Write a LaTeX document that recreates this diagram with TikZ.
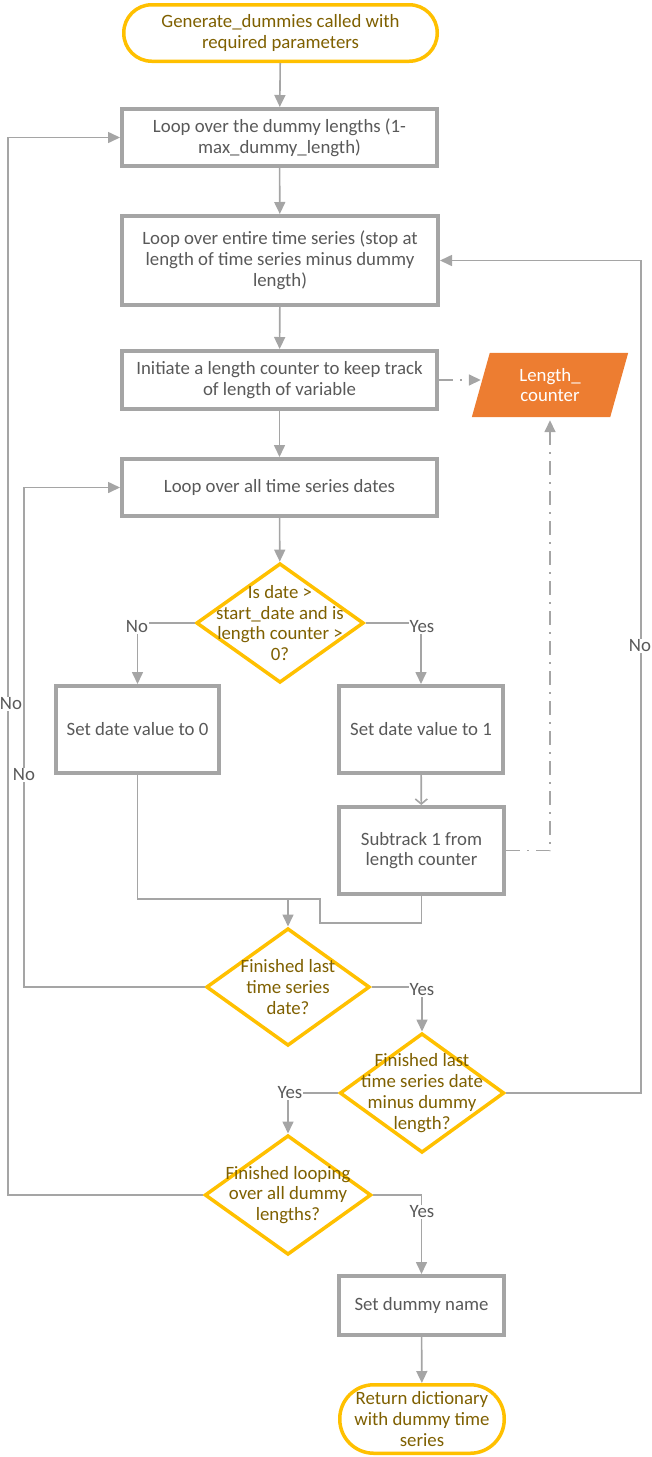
\documentclass[tikz,border=0pt]{standalone}
\usepackage{fontspec}
\setmainfont{Carlito}
\usetikzlibrary{arrows.meta,shapes.geometric,backgrounds,calc}
\definecolor{lineg}{HTML}{A5A5A5}
\definecolor{txtg}{HTML}{595959}
\definecolor{yell}{HTML}{FFC000}
\definecolor{olive}{HTML}{7F6000}
\definecolor{orng}{HTML}{ED7D31}
\begin{document}
\begin{tikzpicture}[x=1pt,y=-1pt,
  font=\fontsize{18.8}{20.8}\selectfont,
  stepbox/.style={draw=lineg, line width=4pt, fill=white, text=txtg, align=center, inner sep=0pt},
  term/.style={draw=yell, line width=3.5pt, fill=white, text=olive, align=center, inner sep=0pt},
  dec/.style={diamond, draw=yell, line width=3.5pt, fill=white, inner sep=0pt},
  dtext/.style={text=olive, align=center, inner sep=0pt},
  arr/.style={draw=lineg, line width=1.6pt, -{Triangle[length=12pt,width=11pt]}},
  plain/.style={draw=lineg, line width=1.6pt},
  dd/.style={draw=lineg, line width=1.6pt, dash pattern=on 14pt off 7pt on 2pt off 7pt, -{Triangle[length=12pt,width=11pt]}},
  lab/.style={fill=white, text=txtg, inner sep=1pt}]
\useasboundingbox (0,0) rectangle (652,1457);

% process steps
\node[term, rounded corners=28pt, minimum width=313.5pt, minimum height=56.5pt] (start) at (280.5,33) {Generate\_dummies called with\\required parameters};
\node[stepbox, minimum width=315pt, minimum height=57pt] (b1) at (279.5,137.5) {Loop over the dummy lengths (1-\\max\_dummy\_length)};
\node[stepbox, minimum width=316pt, minimum height=89pt] (b2) at (280,260.5) {Loop over entire time series (stop at\\length of time series minus dummy\\length)};
\node[stepbox, minimum width=315pt, minimum height=58pt] (b3) at (279.5,380) {Initiate a length counter to keep track\\of length of variable};
\node[stepbox, minimum width=315pt, minimum height=57pt] (b4) at (279.5,487.5) {Loop over all time series dates};

% data store
\node[text=white, align=center, inner sep=0pt, minimum width=138pt, minimum height=64pt] (lc) at (550,385) {Length\_\\counter};
\begin{scope}[on background layer]
  \fill[orng] ($(lc.south west)+(-9,0)$) -- ($(lc.north west)+(9,0)$) -- ($(lc.north east)+(9,0)$) -- ($(lc.south east)+(-9,0)$) -- cycle;
\end{scope}

% decisions and branches
\node[dec, minimum width=167.5pt, minimum height=119.5pt, label={[dtext]center:{Is date >\\start\_date and is\\length counter >\\0?}}] (d1) at (280,623) {};
\node[stepbox, minimum width=163pt, minimum height=87pt] (s0) at (137.5,729.5) {Set date value to 0};
\node[stepbox, minimum width=164pt, minimum height=87pt] (s1) at (421,729.5) {Set date value to 1};
\node[stepbox, minimum width=165pt, minimum height=87pt] (sub) at (421.5,850.5) {Subtrack 1 from\\length counter};
\node[dec, minimum width=163.5pt, minimum height=117.5pt, label={[dtext]center:{Finished last\\time series\\date?}}] (d2) at (288,987) {};
\node[dec, minimum width=164.5pt, minimum height=119.5pt, label={[dtext]center:{Finished last\\time series date\\minus dummy\\length?}}] (d3) at (422,1093) {};
\node[dec, minimum width=166.5pt, minimum height=119.5pt, label={[dtext]center:{Finished looping\\over all dummy\\lengths?}}] (d4) at (288,1195) {};
\node[stepbox, minimum width=165pt, minimum height=59pt] (sdn) at (421.5,1305.5) {Set dummy name};
\node[term, rounded corners=34pt, minimum width=164.5pt, minimum height=68.5pt] (end) at (422,1419) {Return dictionary\\with dummy time\\series};

% junction below the two date branches
\coordinate (jn) at (288,899);

% main flow
\draw[arr] (start) -- (b1);
\draw[arr] (b1) -- (b2);
\draw[arr] (b2) -- (b3);
\draw[arr] (b3) -- (b4);
\draw[arr] (b4) -- (d1);
\draw[arr] (d1.west) -| (s0.north);
\draw[arr] (d1.east) -| (s1.north);
\draw[draw=lineg, line width=1.6pt, -{Straight Barb[length=5pt,width=12pt]}] (s1) -- (sub);
\draw[plain] (s0.south) |- ($(jn)+(32,0)$) -- ++(0,24) -| (sub.south);
\draw[arr] (jn) -- (d2.north);
\draw[arr] (d2.west) -| ($(b4.west)+(-96,0)$) -- (b4.west);
\draw[arr] (d2.east) -| (d3.north);
\draw[arr] (d3.east) -| ($(b2.east)+(201,0)$) -- (b2.east);
\draw[arr] (d3.west) -| (d4.north);
\draw[arr] (d4.west) -| ($(b1.west)+(-112,0)$) -- (b1.west);
\draw[arr] (d4.east) -| (sdn.north);
\draw[arr] (sdn) -- (end);

% length counter updates
\draw[dd] (b3.east) -- (b3.east -| lc.west);
\draw[dd] (sub.east) -| ($(lc.south)+(0,3)$);

% branch labels
\node[lab] at (137,627) {No};
\node[lab] at (422,627) {Yes};
\node[lab] at (24,775) {No};
\node[lab] at (422,990) {Yes};
\node[lab] at (640,646) {No};
\node[lab] at (290,1093) {Yes};
\node[lab] at (11,704) {No};
\node[lab] at (422,1212) {Yes};
\end{tikzpicture}
\end{document}
